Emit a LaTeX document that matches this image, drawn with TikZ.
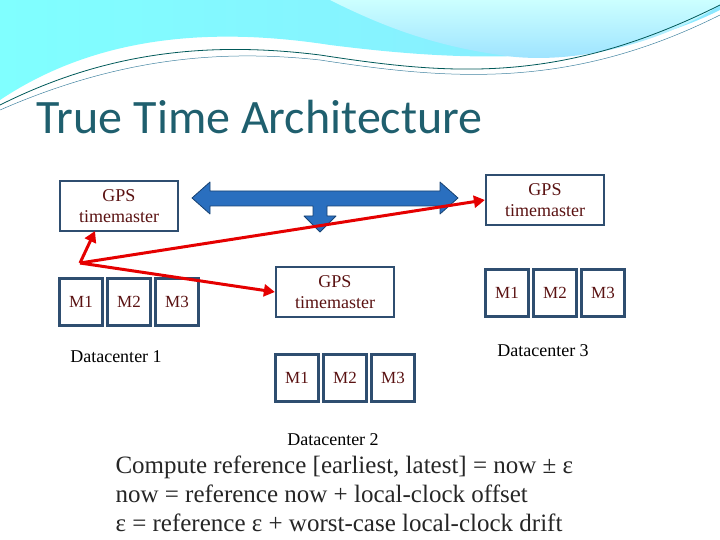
\documentclass[tikz,border=0pt]{standalone}
\usepackage{fontspec}
\setmainfont{Liberation Serif}
\newfontfamily\titlefont{Carlito}
\usetikzlibrary{arrows.meta}
\definecolor{boxblue}{HTML}{2F4E70}
\definecolor{txtred}{HTML}{5A1212}
\definecolor{titleteal}{HTML}{1F5F6E}
\definecolor{arrblue}{HTML}{2A6FBF}
\tikzset{
 mbox/.style={draw=boxblue,line width=2.2pt,minimum width=43pt,minimum height=47pt,inner sep=0pt,text=txtred,font=\fontsize{17}{19}\selectfont},
 gbox/.style={draw=boxblue,line width=2.2pt,minimum width=118pt,minimum height=50pt,align=center,text=txtred,font=\fontsize{18}{21}\selectfont},
 lbl/.style={font=\fontsize{18}{20}\selectfont,text=black},
 redarr/.style={draw=red!90!black,line width=3pt,-{Triangle[length=11pt,width=12pt]}},
 bluearr/.style={fill=arrblue,draw=arrblue!60!black,line width=0.8pt,line join=round}
}
\begin{document}
\begin{tikzpicture}[x=1pt,y=-1pt]
\useasboundingbox (0,0) rectangle (720,540);
% top decoration
\shade[left color=cyan!50!white,right color=blue!20!cyan!45!white] (0,0) -- (720,0) -- (720,10) .. controls (600,70) and (450,60) .. (330,45) .. controls (200,25) and (90,40) .. (0,100) -- cycle;
\shade[top color=cyan!20!white,bottom color=blue!30!cyan!40!white] (330,0) -- (720,0) -- (720,5) .. controls (650,50) and (560,65) .. (500,55) .. controls (430,45) and (380,25) .. (330,0) -- cycle;
\draw[teal!70!black,line width=0.8pt] (0,105) .. controls (100,55) and (200,40) .. (320,55) .. controls (450,75) and (560,85) .. (720,5);
\draw[cyan!60!black,line width=0.5pt] (0,110) .. controls (110,62) and (210,48) .. (320,60) .. controls (450,80) and (570,90) .. (720,15);
% title
\node[anchor=west,text=titleteal,font=\titlefont\fontsize{48}{52}\selectfont] (title) at (33,117) {True Time Architecture};
% boxes
\node[gbox] (g1) at (119,206) {GPS\\timemaster};
\node[gbox] (g3) at (545,200) {GPS\\timemaster};
\node[gbox] (g2) at (335,292) {GPS\\timemaster};
\node[mbox] (a1) at (81,302) {M1};
\node[mbox] (a2) at (129,302) {M2};
\node[mbox] (a3) at (177,302) {M3};
\node[mbox] (c1) at (507,293) {M1};
\node[mbox] (c2) at (555,293) {M2};
\node[mbox] (c3) at (603,293) {M3};
\node[mbox] (b1) at (297,378) {M1};
\node[mbox] (b2) at (345,378) {M2};
\node[mbox] (b3) at (393,378) {M3};
\node[lbl] (d1) at (116,357) {Datacenter 1};
\node[lbl] (d3) at (543,351) {Datacenter 3};
\node[lbl] (d2) at (333,440) {Datacenter 2};
% blue arrows
\path[bluearr] (192,198) -- (210,182) -- (210,191) -- (440,191) -- (440,182) -- (458,198) -- (440,214) -- (440,206) -- (327,206) -- (327,216) -- (336,216) -- (320,232) -- (304,216) -- (313,216) -- (313,206) -- (210,206) -- (210,214) -- cycle;
% red arrows
\coordinate (hub) at (80,263);
\coordinate (g1tip) at (95,231);
\draw[redarr] (hub) -- (g1tip);
\draw[redarr] (hub) -- (g3.west);
\draw[redarr] (hub) -- (g2.west);
% bottom text
\node[anchor=north west,align=left,font=\fontsize{25}{29}\selectfont,text=black!85] (txt) at (112,452) {Compute reference [earliest, latest] = now ± ε\\now = reference now + local-clock offset\\ε = reference ε + worst-case local-clock drift};
\end{tikzpicture}
\end{document}
